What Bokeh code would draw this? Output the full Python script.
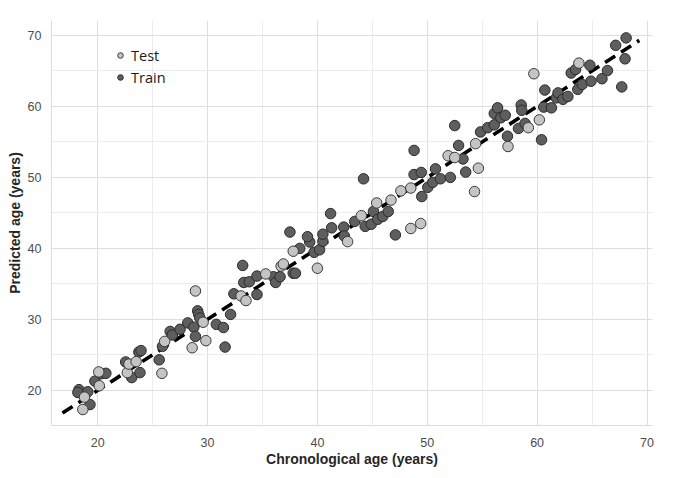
from bokeh.plotting import figure
from bokeh.models import ColumnDataSource, Range1d, FixedTicker, Legend, LegendItem
from bokeh.embed import file_html
from bokeh.resources import INLINE

# ---- data ----
train_x = [18.3, 18.2, 19.1, 19.3, 19.75, 20.3, 20.75, 22.55, 23.1, 23.85, 23.75, 23.95, 25.6, 25.9,
           26.6, 26.8, 27.5, 28.2, 28.75, 28.9, 29.1, 29.2, 29.3, 30.8, 31.45, 31.6, 32.1, 32.4,
           33.2, 33.3, 33.8, 34.5, 34.5, 36.0, 36.2, 36.6, 37.8, 38.0, 38.4, 39.3, 39.7, 40.2, 40.5,
           37.5, 39.1, 40.5, 41.2, 41.3, 42.4, 42.45,
           43.4, 44.2, 44.35, 44.9, 45.1, 45.5, 45.95, 46.45, 47.1,
           48.8, 48.8, 49.45, 49.5, 50.05, 50.5, 50.75, 51.2, 52.1, 52.5, 52.85, 53.25, 53.5,
           54.85, 55.5, 56.1, 56.1, 56.4, 56.7, 57.1, 57.3, 58.3, 58.55, 58.6, 58.9, 60.4, 60.6, 61.3,
           60.7, 61.75, 61.9, 62.35, 62.8, 63.1, 63.5, 63.7, 64.1, 64.8, 64.9, 65.9, 66.4, 67.15,
           68.1, 68.0, 67.7]
train_y = [20.1, 19.7, 19.8, 18.0, 21.3, 22.35, 22.4, 24.0, 21.8, 22.5, 25.4, 25.6, 24.3, 26.2,
           28.3, 27.8, 28.6, 29.5, 28.9, 27.6, 31.2, 30.7, 30.2, 29.3, 28.85, 26.1, 30.7, 33.6,
           37.6, 35.2, 35.3, 33.5, 36.1, 36.0, 35.2, 36.0, 36.5, 36.5, 40.0, 40.9, 39.45, 39.8, 41.0,
           42.3, 41.65, 42.0, 44.9, 42.9, 43.0, 41.75,
           43.8, 49.8, 43.1, 43.4, 45.2, 44.1, 44.5, 45.2, 41.9,
           53.8, 50.4, 50.7, 47.3, 48.6, 49.3, 51.2, 49.8, 50.0, 57.3, 54.5, 52.6, 50.75,
           56.4, 57.0, 57.4, 59.0, 59.8, 58.4, 58.75, 55.8, 56.9, 60.2, 59.45, 57.6, 55.3, 59.9, 59.8,
           62.3, 61.2, 61.9, 61.0, 61.4, 64.7, 65.2, 62.4, 63.1, 65.8, 63.55, 63.9, 65.05, 68.6,
           69.65, 66.7, 62.75]

test_x = [18.65, 18.8, 20.1, 20.15, 22.7, 22.85, 23.5, 25.85, 26.1, 28.6, 28.9, 29.6, 29.85,
          33.05, 33.5, 35.3, 36.7, 36.9, 37.8, 40.0, 42.75, 44.0, 45.4, 46.7, 47.6, 48.5, 48.5,
          49.4, 51.9, 52.5, 54.4, 54.3, 54.65, 57.35, 59.2, 59.7, 60.2, 63.8]
test_y = [17.3, 19.05, 22.6, 20.65, 22.5, 23.7, 24.05, 22.4, 26.9, 26.0, 34.0, 29.6, 27.0,
          33.3, 32.65, 36.4, 37.5, 37.8, 39.6, 37.2, 40.95, 44.6, 46.4, 46.8, 48.1, 48.5, 42.8,
          43.5, 53.05, 52.8, 54.75, 48.0, 51.3, 54.35, 57.0, 64.6, 58.1, 66.1]

line_x = [16.8, 69.3]
line_y = [16.8, 69.3]

x_ticks = [20, 30, 40, 50, 60, 70]
x_minor = [25, 35, 45, 55, 65]
y_ticks = [20, 30, 40, 50, 60, 70]
y_minor = [25, 35, 45, 55, 65]

x_title = "Chronological age (years)"
y_title = "Predicted age (years)"
series_names = ["Test", "Train"]

# ---- figure ----
p = figure(width=672, height=470, output_backend="svg", toolbar_location=None,
           x_range=Range1d(15.8, 70.5), y_range=Range1d(15.05, 72.1),
           min_border_left=51, min_border_right=20, min_border_top=20, min_border_bottom=45)
p.outline_line_color = None
p.background_fill_color = "white"

for ax, ticks, minor in ((p.xaxis[0], x_ticks, x_minor), (p.yaxis[0], y_ticks, y_minor)):
    ax.ticker = FixedTicker(ticks=ticks, minor_ticks=minor)
    ax.major_tick_line_color = None
    ax.minor_tick_line_color = None
    ax.axis_line_color = "#dcdcdc"
    ax.axis_line_width = 1
    ax.major_label_text_font = "Liberation Sans"
    ax.major_label_text_font_size = "12.5px"
    ax.major_label_text_color = "#4d4d4d"
    ax.axis_label_text_font = "Liberation Sans"
    ax.axis_label_text_font_style = "bold"
    ax.axis_label_text_font_size = "14px"
    ax.axis_label_text_color = "#262626"

p.xaxis.axis_label = x_title
p.yaxis.axis_label = y_title
p.xaxis.major_label_standoff = 6
p.xaxis.axis_label_standoff = 1
p.yaxis.major_label_standoff = 4
p.yaxis.axis_label_standoff = 2

for g in (p.xgrid, p.ygrid):
    g.grid_line_color = "#dedede"
    g.grid_line_width = 1
    g.minor_grid_line_color = "#ececec"
    g.minor_grid_line_width = 1
p.xgrid.ticker = FixedTicker(ticks=x_ticks, minor_ticks=x_minor)
p.ygrid.ticker = FixedTicker(ticks=y_ticks, minor_ticks=y_minor)

p.line(line_x, line_y, line_color="black", line_width=3.6, line_dash="12 7")

src_test = ColumnDataSource(dict(x=test_x, y=test_y))
src_train = ColumnDataSource(dict(x=train_x, y=train_y))
r_train = p.scatter("x", "y", source=src_train, size=10.5, marker="circle",
                    fill_color="#5e5e5e", line_color="#2b2b2b", line_width=1)
r_test = p.scatter("x", "y", source=src_test, size=10.5, marker="circle",
                   fill_color="#c4c4c4", line_color="#3a3a3a", line_width=1)

legend = Legend(items=[LegendItem(label=series_names[0], renderers=[r_test]),
                       LegendItem(label=series_names[1], renderers=[r_train])],
                location=(62, 338))
legend.border_line_color = None
legend.background_fill_alpha = 0
legend.margin = 0
legend.padding = 0
legend.glyph_width = 14
legend.glyph_height = 20
legend.label_standoff = 4
legend.spacing = 2
legend.label_text_font = "Open Sans"
legend.label_text_font_size = "14.5px"
legend.label_text_color = "#1a1a1a"
p.add_layout(legend, "center")

open("out.html", "w").write(file_html(p, INLINE))
